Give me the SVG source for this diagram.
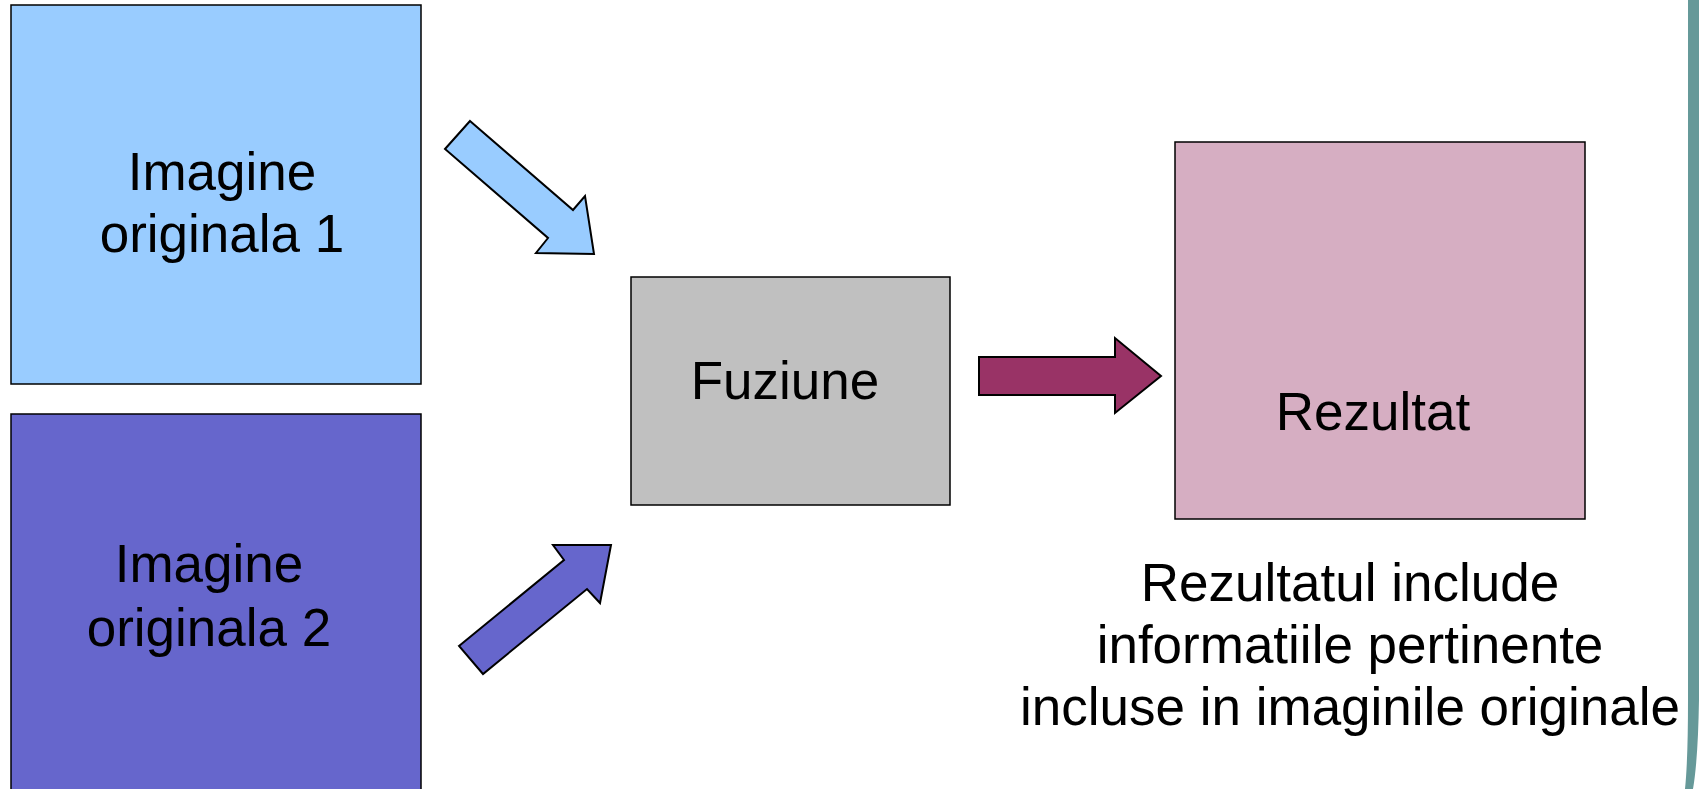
<svg xmlns="http://www.w3.org/2000/svg" width="1704" height="789" viewBox="0 0 1704 789">
  <style>
    .box { stroke: #000; stroke-width: 1.5; }
    .arrow { stroke: #000; stroke-width: 2; stroke-linejoin: miter; }
    .label { font-family: "Liberation Sans", Arial, sans-serif; font-size: 53px; fill: #000; text-anchor: middle; }
  </style>
  <rect width="1704" height="789" fill="#fff"/>

  <!-- slide border strip on the right edge -->
  <path d="M1688,0 L1699,0 L1699,700 Q1698,760 1693,789 L1685,789 Q1688,760 1688,700 Z" fill="#669999"/>

  <g id="imagine1">
    <rect class="box" x="11" y="5" width="410" height="379" fill="#99CCFF"/>
    <text class="label" x="222" y="190">Imagine</text>
    <text class="label" x="222" y="252">originala 1</text>
  </g>

  <g id="imagine2">
    <rect class="box" x="11" y="414" width="410" height="400" fill="#6666CC"/>
    <text class="label" x="209" y="582">Imagine</text>
    <text class="label" x="209" y="646">originala 2</text>
  </g>

  <g id="fuziune">
    <rect class="box" x="631" y="277" width="319" height="228" fill="#C0C0C0"/>
    <text class="label" x="785" y="399">Fuziune</text>
  </g>

  <g id="rezultat">
    <rect class="box" x="1175" y="142" width="410" height="377" fill="#D6AEC2"/>
    <text class="label" x="1373" y="430">Rezultat</text>
  </g>

  <g id="nota">
    <text class="label" x="1350" y="601">Rezultatul include</text>
    <text class="label" x="1350" y="663">informatiile pertinente</text>
    <text class="label" x="1350" y="725">incluse in imaginile originale</text>
  </g>

  <g id="connectors">
    <polygon class="arrow" fill="#99CCFF" points="470,121 573,210 585,196 594,254 536,253 548,238 445,149"/>
    <polygon class="arrow" fill="#6666CC" points="459,646 564,560 553,545 611,545 600,603 587,589 483,674"/>
    <polygon class="arrow" fill="#993366" points="979,357 1115,357 1115,338 1161,376 1115,413 1115,395 979,395"/>
  </g>
</svg>
